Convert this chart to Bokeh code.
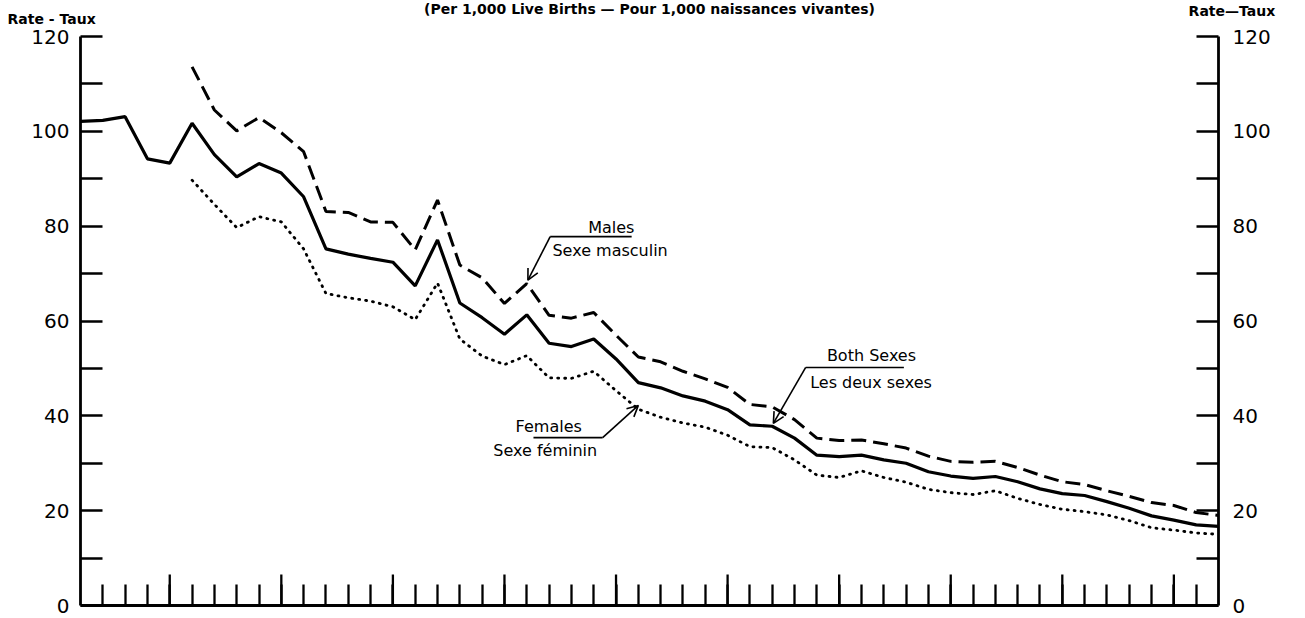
from bokeh.plotting import figure
from bokeh.models import Range1d, LinearAxis, FixedTicker, Label, Arrow, OpenHead, ColumnDataSource
from bokeh.embed import file_html
from bokeh.resources import INLINE

# ---------------- data ----------------
years = list(range(1921, 1973))
both_rate = [102.1, 102.3, 103.1, 94.2, 93.3, 101.7, 95.1, 90.4, 93.2, 91.2,
             86.2, 75.2, 74.1, 73.2, 72.4, 67.4, 77.1, 63.8, 60.7, 57.2,
             61.3, 55.3, 54.6, 56.2, 52.0, 47.0, 45.9, 44.2, 43.1, 41.3,
             38.1, 37.8, 35.3, 31.7, 31.4, 31.7, 30.7, 30.0, 28.2, 27.3,
             26.8, 27.2, 26.1, 24.6, 23.6, 23.2, 21.9, 20.5, 18.9, 18.0,
             17.0, 16.7]
sex_years = list(range(1926, 1973))
male_rate = [113.6, 104.5, 100.1, 102.9, 99.7,
             95.7, 83.1, 82.9, 80.9, 80.8, 75.0, 85.5, 71.8, 69.1, 63.7,
             67.9, 61.2, 60.6, 61.8, 57.0, 52.4, 51.4, 49.4, 47.8, 46.0,
             42.4, 41.9, 39.2, 35.3, 34.8, 34.9, 34.1, 33.2, 31.5, 30.4,
             30.2, 30.4, 29.1, 27.5, 26.1, 25.5, 24.2, 23.0, 21.7, 21.1,
             19.6, 19.0]
female_rate = [89.7, 84.6, 79.7, 82.0, 80.9,
               75.2, 65.8, 64.9, 64.2, 63.0, 60.3, 68.0, 56.2, 52.6, 50.8,
               52.7, 48.0, 47.9, 49.4, 45.3, 41.4, 39.7, 38.5, 37.6, 35.9,
               33.5, 33.3, 30.7, 27.5, 27.0, 28.4, 27.0, 26.0, 24.5, 23.8,
               23.4, 24.2, 22.6, 21.3, 20.3, 19.8, 19.1, 17.9, 16.4, 15.9,
               15.3, 15.0]
y_label_ticks = [0, 20, 40, 60, 80, 100, 120]
y_minor_ticks = [10, 30, 50, 70, 90, 110]
x_major = [1925, 1930, 1935, 1940, 1945, 1950, 1955, 1960, 1965, 1970]
x_minor = list(range(1922, 1972))

title_text = "(Per 1,000 Live Births \u2014 Pour 1,000 naissances vivantes)"
axis_title_left = "Rate - Taux"
axis_title_right = "Rate\u2014Taux"

NUM_FONT = "DejaVu Sans"
TXT_FONT = "DejaVu Sans"

# ---------------- layout geometry (pixels) ----------------
W, H = 1289, 618
AX_LEFT_PX, AX_RIGHT_PX = 80, 1218      # x of the 1921 and 1972 axes
Y0_PX, Y120_PX = 605, 36                # y of rate 0 and rate 120
X0, X1, Y0, Y1 = years[0], years[-1], 0, 120
px_per_year = (AX_RIGHT_PX - AX_LEFT_PX) / (X1 - X0)
px_per_unit = (Y0_PX - Y120_PX) / (Y1 - Y0)
x_range = Range1d(X0 - AX_LEFT_PX / px_per_year, X1 + (W - AX_RIGHT_PX) / px_per_year)
y_range = Range1d(Y0 - (H - Y0_PX) / px_per_unit, Y1 + Y120_PX / px_per_unit)

p = figure(width=W, height=H, x_range=x_range, y_range=y_range,
           x_axis_type=None, y_axis_type=None,
           output_backend="svg", toolbar_location=None, min_border=0)
p.outline_line_color = None
p.background_fill_color = "white"
p.border_fill_color = "white"


def y_axis(loc, standoff):
    return LinearAxis(fixed_location=loc, bounds=(Y0, Y1),
                      ticker=FixedTicker(ticks=y_label_ticks, minor_ticks=y_minor_ticks),
                      major_tick_in=22, major_tick_out=0,
                      minor_tick_in=22, minor_tick_out=0,
                      major_tick_line_width=2.5, minor_tick_line_width=2.5,
                      axis_line_width=2.8,
                      major_label_standoff=standoff,
                      major_label_text_font=NUM_FONT,
                      major_label_text_font_size="20px",
                      major_label_text_color="black",
                      axis_line_color="black", major_tick_line_color="black",
                      minor_tick_line_color="black")


p.add_layout(y_axis(X0, 11), "left")
p.add_layout(y_axis(X1, 14), "right")

xax = LinearAxis(fixed_location=Y0, bounds=(X0, X1),
                 ticker=FixedTicker(ticks=[], minor_ticks=x_minor),
                 major_tick_line_color=None,
                 minor_tick_in=21, minor_tick_out=0,
                 minor_tick_line_width=2.3, axis_line_width=3.2,
                 axis_line_color="black", minor_tick_line_color="black")
p.add_layout(xax, "below")

# long ticks every five years (length expressed in rate units)
LONG_TICK = 31 / px_per_unit
p.segment(x0=x_major, y0=[Y0] * len(x_major), x1=x_major, y1=[LONG_TICK] * len(x_major),
          line_color="black", line_width=2.3)

src_b = ColumnDataSource(dict(x=years, y=both_rate))
src_m = ColumnDataSource(dict(x=sex_years, y=male_rate))
src_f = ColumnDataSource(dict(x=sex_years, y=female_rate))

p.line("x", "y", source=src_b, line_color="black", line_width=3.2)
p.line("x", "y", source=src_m, line_color="black", line_width=3.0, line_dash="15 7")
p.line("x", "y", source=src_f, line_color="black", line_width=2.8,
       line_dash="1 6", line_cap="round")


# ---------------- annotations ----------------
def lab(x, y, text, size="16px", bold=False, baseline="middle", align="left"):
    p.add_layout(Label(x=x, y=y, text=text, text_font=TXT_FONT,
                       text_font_size=size, text_align=align,
                       text_font_style="bold" if bold else "normal",
                       text_baseline=baseline, text_color="black"))


def rule(x0, y0, x1, y1, head_=False):
    p.add_layout(Arrow(x_start=x0, y_start=y0, x_end=x1, y_end=y1,
                       line_width=1.6, line_color="black",
                       end=OpenHead(size=11, line_width=1.6) if head_ else None))


# Males
lab(1943.75, 79.7, "Males")
rule(1942.05, 77.8, 1945.7, 77.8)
rule(1942.05, 77.8, 1941.05, 68.6, head_=True)
lab(1942.15, 74.9, "Sexe masculin")

# Both sexes
lab(1954.45, 52.7, "Both Sexes")
rule(1953.5, 50.2, 1957.9, 50.2)
rule(1953.5, 50.2, 1952.05, 38.4, head_=True)
lab(1953.7, 47.0, "Les deux sexes")

# Females
lab(1940.5, 37.8, "Females")
rule(1941.3, 35.4, 1944.4, 35.4)
rule(1944.4, 35.4, 1946.0, 42.2, head_=True)
lab(1939.5, 32.7, "Sexe f\u00e9minin")

# headings
lab(1946.5, 127.5, title_text, size="14px", bold=True, baseline="top", align="center")
lab(1917.73, 125.4, axis_title_left, size="14px", bold=True, baseline="top")
lab(1970.66, 127.1, axis_title_right, size="14px", bold=True, baseline="top")

open("out.html", "w").write(file_html(p, INLINE))
